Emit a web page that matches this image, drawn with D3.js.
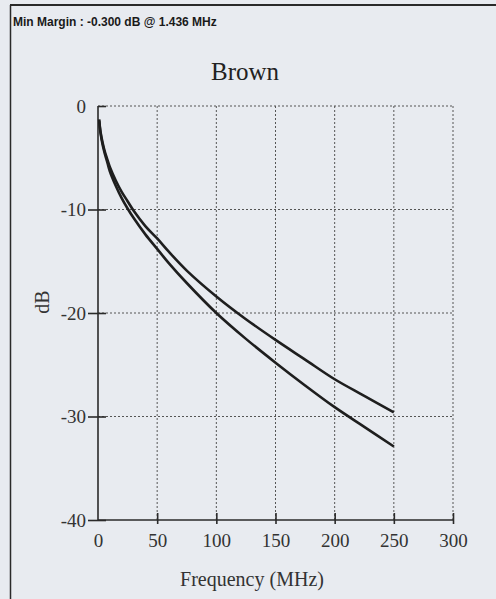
<!DOCTYPE html>
<head>
  <meta charset="utf-8">
  <script src="https://d3js.org/d3.v7.min.js"></script>
  <style>
    body { margin:0; background:#e8ebf0; }
    svg { display:block; }
  </style>
</head>
<body>
  <script>
    // data (MHz, dB)
    var freqs = [1, 2, 4, 6, 8, 10, 15, 20, 25, 30, 40, 50, 60, 75, 100, 125, 150, 175, 200, 225, 250];
    var upperDb = [-1.3, -2.4, -3.6, -4.5, -5.2, -5.9, -7.2, -8.3, -9.2, -10.1, -11.6, -12.8, -14.1, -15.9, -18.4, -20.6, -22.6, -24.5, -26.4, -28.0, -29.6];
    var lowerDb = [-1.4, -2.5, -3.8, -4.7, -5.5, -6.3, -7.7, -8.9, -9.9, -10.8, -12.4, -13.8, -15.2, -17.1, -20.0, -22.5, -24.8, -27.0, -29.1, -31.0, -32.9];
    var xTicks = [0, 50, 100, 150, 200, 250, 300];
    var yTicks = [0, -10, -20, -30, -40];

    var width = 496, height = 599;
    var ink = "#2a2a2a";

    var svg = d3.select("body").append("svg")
      .attr("width", width)
      .attr("height", height);

    // frame of the window
    svg.append("line").attr("x1", 10).attr("x2", width).attr("y1", 5).attr("y2", 5)
      .attr("stroke", ink).attr("stroke-width", 2);
    svg.append("line").attr("x1", 10.5).attr("x2", 10.5).attr("y1", 5).attr("y2", height)
      .attr("stroke", ink).attr("stroke-width", 1.5);

    svg.append("text")
      .attr("x", 13).attr("y", 26)
      .attr("font-family", "Liberation Sans, Arial, sans-serif")
      .attr("font-size", 12)
      .attr("font-weight", "bold")
      .attr("fill", "#1a1a1a")
      .text("Min Margin : -0.300 dB @ 1.436 MHz");

    var x = d3.scaleLinear().domain([0, 300]).range([98, 453]);
    var y = d3.scaleLinear().domain([-40, 0]).range([520, 106]);

    svg.append("text")
      .attr("x", 245).attr("y", 80)
      .attr("text-anchor", "middle")
      .attr("font-family", "Liberation Serif, Times New Roman, serif")
      .attr("font-size", 25)
      .attr("fill", "#222")
      .text("Brown");

    // dotted grid
    var grid = svg.append("g")
      .attr("stroke", "#555")
      .attr("stroke-width", 1)
      .attr("stroke-dasharray", "2,2");
    grid.selectAll(".vg").data(xTicks.slice(1)).enter().append("line")
      .attr("x1", d => x(d)).attr("x2", d => x(d))
      .attr("y1", y(0)).attr("y2", y(-40));
    grid.selectAll(".hg").data(yTicks.slice(0, 4)).enter().append("line")
      .attr("x1", x(0)).attr("x2", x(300))
      .attr("y1", d => y(d)).attr("y2", d => y(d));

    // axes
    var yAxis = svg.append("g")
      .attr("transform", "translate(" + x(0) + ",0)")
      .call(d3.axisLeft(y).tickValues(yTicks).tickSize(10).tickPadding(2)
        .tickFormat(d => String(d)));
    var xAxis = svg.append("g")
      .attr("transform", "translate(0," + y(-40) + ")")
      .call(d3.axisBottom(x).tickValues(xTicks).tickSize(4).tickPadding(10));

    [yAxis, xAxis].forEach(function(a) {
      a.select(".domain").attr("stroke", ink).attr("stroke-width", 1.6);
      a.selectAll(".tick line").attr("stroke", ink).attr("stroke-width", 1.6);
      a.selectAll(".tick text")
        .attr("font-family", "Liberation Serif, Times New Roman, serif")
        .attr("font-size", 19)
        .attr("fill", "#333");
    });
    yAxis.select(".domain").attr("d", "M0," + y(0) + "V" + y(-40));
    xAxis.select(".domain").attr("d", "M" + x(0) + ",0H" + x(300));
    // y ticks cross the axis, the top one is not drawn
    yAxis.selectAll(".tick line").attr("x2", 8).attr("x1", d => d === 0 ? 0 : -10);
    // x ticks reach above the axis
    xAxis.selectAll(".tick line").attr("y1", -7).attr("y2", 4);
    xAxis.selectAll(".tick").filter(d => d === 0).select("line").remove();

    svg.append("text")
      .attr("x", 252).attr("y", 586)
      .attr("text-anchor", "middle")
      .attr("font-family", "Liberation Serif, Times New Roman, serif")
      .attr("font-size", 20)
      .attr("fill", "#333")
      .text("Frequency (MHz)");

    svg.append("text")
      .attr("transform", "translate(49,302) rotate(-90)")
      .attr("text-anchor", "middle")
      .attr("font-family", "Liberation Serif, Times New Roman, serif")
      .attr("font-size", 20)
      .attr("fill", "#333")
      .text("dB");

    // curves
    var line = d3.line()
      .x((d, i) => x(freqs[i]))
      .y(d => y(d))
      .curve(d3.curveCatmullRom);

    [upperDb, lowerDb].forEach(function(s) {
      svg.append("path")
        .datum(s)
        .attr("d", line)
        .attr("fill", "none")
        .attr("stroke", "#1e1e1e")
        .attr("stroke-width", 2.6);
    });
  </script>
</body>
